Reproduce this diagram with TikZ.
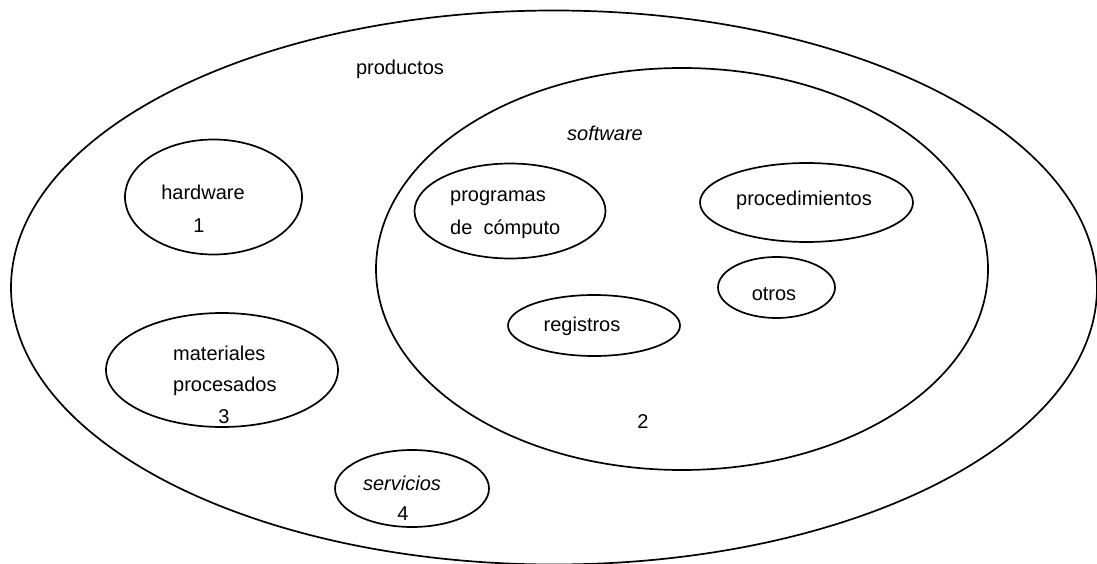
\documentclass[tikz,border=0pt]{standalone}
\usepackage{fontspec}
\setmainfont{Liberation Sans}
\usetikzlibrary{shapes.geometric}
\begin{document}
\begin{tikzpicture}[x=1pt,y=-1pt,
  ring/.style={draw=black, line width=1.7pt, ellipse, inner sep=0pt, outer sep=0pt},
  lbl/.style={anchor=base, inner sep=0pt, font=\fontsize{20}{24}\selectfont},
  lbll/.style={anchor=base west, inner sep=0pt, font=\fontsize{20}{24}\selectfont}]
  \useasboundingbox (0,0) rectangle (1097,564);

  % outer set: productos
  \node[ring, minimum width=1086pt, minimum height=554pt] (prod) at (554,287.5) {};
  \node[lbl] (tprod) at (400,75) {productos};

  % software set
  \node[ring, minimum width=612pt, minimum height=402pt] (soft) at (682,269) {};
  \node[lbl] (tsoft) at (605,141) {\itshape software};
  \node[lbl] (n2) at (643,428) {2};

  % members of software
  \node[ring, minimum width=191pt, minimum height=95pt] (prog) at (510,211) {};
  \node[lbll] (tprog1) at (450,201) {programas};
  \node[lbll] (tprog2) at (450,234) {de\ \ cómputo};

  \node[ring, minimum width=213pt, minimum height=79pt] (proc) at (806.5,202.5) {};
  \node[lbl] (tproc) at (804,205) {procedimientos};

  \node[ring, minimum width=117pt, minimum height=61pt] (otros) at (776.5,287.5) {};
  \node[lbl] (totros) at (774,300) {otros};

  \node[ring, minimum width=172pt, minimum height=61pt] (reg) at (594,325.5) {};
  \node[lbl] (treg) at (582,331) {registros};

  % other products
  \node[ring, minimum width=177pt, minimum height=115pt] (hw) at (213.5,197) {};
  \node[lbl] (thw) at (203,200) {hardware};
  \node[lbl] (n1) at (199,232) {1};

  \node[ring, minimum width=232pt, minimum height=114pt] (mat) at (222,370) {};
  \node[lbll] (tmat1) at (173,360) {materiales};
  \node[lbll] (tmat2) at (173,391) {procesados};
  \node[lbl] (n3) at (224,423) {3};

  \node[ring, minimum width=154pt, minimum height=77pt] (serv) at (412,488.5) {};
  \node[lbl] (tserv) at (402,490) {\itshape servicios};
  \node[lbl] (n4) at (403,520) {4};
\end{tikzpicture}
\end{document}
